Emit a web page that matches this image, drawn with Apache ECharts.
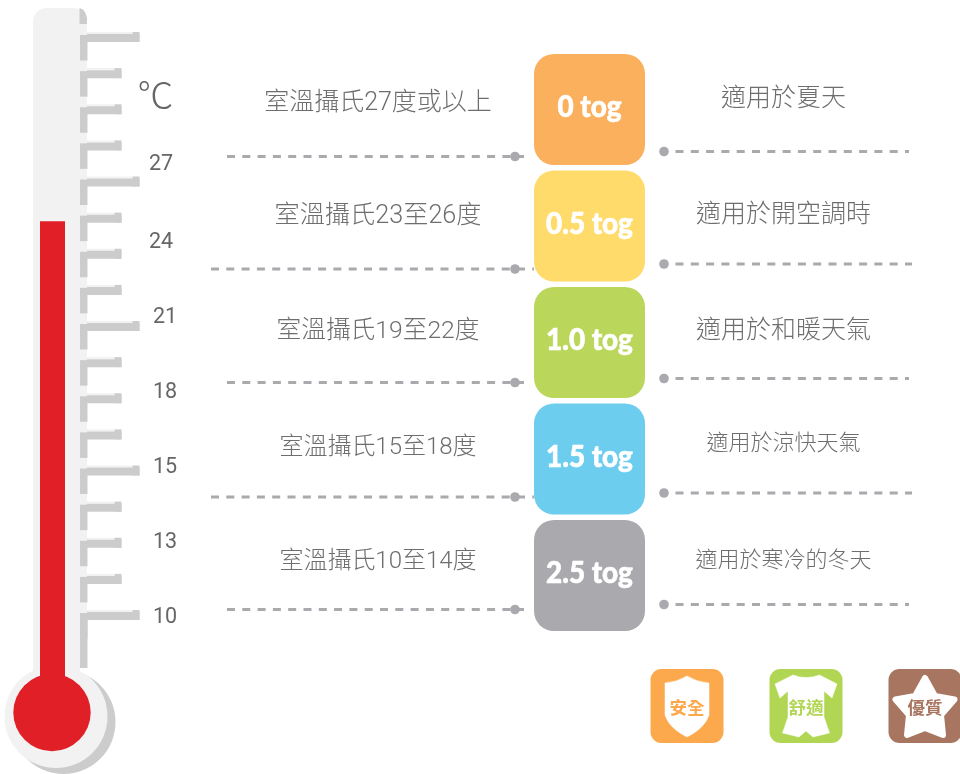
<!DOCTYPE html>
<html>
<head>
<meta charset="utf-8">
<style>html,body{margin:0;padding:0;background:#fff;overflow:hidden}#c{width:960px;height:774px}</style>
<script src="https://cdn.jsdelivr.net/npm/echarts@6/dist/echarts.min.js"></script>
</head>
<body>
<div id="c"></div>
<script>
// ---- content ----
const togLabels = ['0 tog', '0.5 tog', '1.0 tog', '1.5 tog', '2.5 tog'];
const roomLabels = ['室溫攝氏27度或以上', '室溫攝氏23至26度', '室溫攝氏19至22度', '室溫攝氏15至18度', '室溫攝氏10至14度'];
const useLabels = ['適用於夏天', '適用於開空調時', '適用於和暖天氣', '適用於涼快天氣', '適用於寒冷的冬天'];
const tempLabels = [10, 13, 15, 18, 21, 24, 27];
const mercuryTemp = 24.75;
const tickCount = 17;
const badgeLabels = ['安全', '舒適', '優質'];

// ---- styles / layout ----
const togColors = ['#FBB05E', '#FFDB6B', '#BAD75C', '#6DCDEE', '#A9A9AE'];
const badgeColors = ['#FBA94C', '#B1D654', '#A87561'];
const CJK = '"Roboto","Noto Sans CJK TC"';
const GREY = '#6e6e6e';
const DOT = '#A9A9AE';
const rowLayout = {
  leftY: [47, 43, 40, 38, 34],      // line offset from row centre
  rightY: [42, 38, 36, 34, 29],
  leftStart: [227, 211, 227, 211, 227],
  leftEnd: [524, 534, 524, 534, 524],
  rightEnd: [909, 912, 909, 912, 909],
  roomDy: [-6, -9, -11, -11, -14],
  roomSize: [25, 25.2, 24.7, 24, 24],
  useDy: [-10, -10, -11, -15, -14],
  useSize: [25, 25, 25, 22, 22]
};
const tempDx = [165, 165, 165, 165, 165, 161, 161];
const tempDy = [3, 3, 3, 3, 3, 3, 0];
const badgePaths = [
  'M0 -30 Q10 -24 22 -23 L22 9 Q18 22 0 31 Q-18 22 -22 9 L-22 -23 Q-10 -24 0 -30Z',
  'M-13 -31 Q0 -26 13.5 -31 L31 -22 L26 -8 L18 -15 L18 11 L23.5 27 L7 31 L0 25 L-7 31 L-23.5 27 L-18 11 L-18 -15 L-26 -8 L-31 -22Z',
  'M0 -28 L10 -10 L29.5 -6.5 L16 9 L18 29 L0 22 L-18 29 L-16 9 L-29.5 -6.5 L-10 -10Z'
];

function tempToStep(t) {
  for (let i = 0; i < tempLabels.length - 1; i++) {
    if (t <= tempLabels[i + 1]) return i + (t - tempLabels[i]) / (tempLabels[i + 1] - tempLabels[i]);
  }
  return tempLabels.length - 1;
}

const hiddenAxis = { show: false };
const chart = echarts.init(document.getElementById('c'), null, { renderer: 'canvas' });

chart.setOption({
  animation: false,
  backgroundColor: '#fff',
  grid: [
    { left: 0, right: 0, top: 51.25, height: 582.5 },     // rows
    { left: 0, right: 0, top: 165, height: 450 },          // temperature scale
    { left: 0, right: 0, top: 38, height: 578 },           // thermometer ticks
    { left: 687, width: 238, top: 669, height: 74 }        // badges
  ],
  xAxis: [
    { ...hiddenAxis, type: 'value', min: 0, max: 960, gridIndex: 0 },
    { ...hiddenAxis, type: 'value', min: 0, max: 960, gridIndex: 1 },
    { ...hiddenAxis, type: 'value', min: 0, max: 960, gridIndex: 2 },
    { ...hiddenAxis, type: 'value', min: 0, max: badgeLabels.length - 1, gridIndex: 3 }
  ],
  yAxis: [
    { ...hiddenAxis, type: 'category', data: togLabels, inverse: true, gridIndex: 0 },
    { ...hiddenAxis, type: 'value', min: 0, max: tempLabels.length - 1, gridIndex: 1 },
    { ...hiddenAxis, type: 'value', min: 0, max: tickCount - 1, gridIndex: 2 },
    { ...hiddenAxis, type: 'value', min: 0, max: 1, gridIndex: 3 }
  ],
  graphic: { elements: [
    { type: 'rect', z: 1, shape: { x: 33, y: 8, width: 54, height: 660, r: [14, 14, 0, 0] }, style: { fill: '#F2F2F2' } },
    { type: 'polygon', z: 2, shape: { points: [[79.5, 8], [83, 9.5], [85.5, 13], [87, 18], [87, 24], [79.5, 24]] }, style: { fill: '#CCCCCC' } },
    { type: 'rect', z: 2, shape: { x: 80, y: 613, width: 7.5, height: 55 }, style: { fill: '#CCCCCC' } },
    { type: 'circle', z: 2, shape: { cx: 63.5, cy: 722, r: 52 }, style: { fill: '#CCCCCC' } },
    { type: 'circle', z: 5, shape: { cx: 56, cy: 716.5, r: 51.5 }, style: { fill: '#F2F2F2' } },
    { type: 'rect', z: 5, shape: { x: 33, y: 640, width: 47, height: 60 }, style: { fill: '#F2F2F2' } },
    { type: 'text', z: 3, style: { text: '℃', x: 155.5, y: 100, fill: '#666666', font: '300 36px ' + CJK, textAlign: 'center', textVerticalAlign: 'middle' } }
  ] },
  series: [
    // thermometer ticks
    {
      type: 'custom', xAxisIndex: 2, yAxisIndex: 2, z: 2, silent: true, clip: false,
      data: Array.from({ length: tickCount }, (_, i) => [0, i]),
      renderItem(params, api) {
        const y = api.coord([0, api.value(1)])[1];
        const isLong = api.value(1) % 4 === 0;
        const end = isLong ? 139.5 : 121.5;
        return { type: 'group', children: [
          { type: 'rect', shape: { x: 80, y: y - 3, width: 7.5, height: 25.5 }, style: { fill: '#CCCCCC' } },
          { type: 'rect', shape: { x: 87, y: y - 6, width: end - 87 - 7, height: 2 }, style: { fill: '#F2F2F2' } },
          { type: 'rect', shape: { x: 87, y: y - 4, width: end - 87, height: 8 }, style: { fill: '#CCCCCC' } },
          { type: 'rect', shape: { x: end - 7, y: y - 6, width: 7, height: 10 }, style: { fill: '#CCCCCC' } }
        ] };
      }
    },
    // temperature labels
    {
      type: 'custom', xAxisIndex: 1, yAxisIndex: 1, z: 3, silent: true, clip: false,
      data: tempLabels.map((t, i) => [0, i]),
      renderItem(params, api) {
        const i = params.dataIndex;
        const y = api.coord([0, i])[1];
        return { type: 'text', style: { text: String(tempLabels[i]), x: tempDx[i], y: y + tempDy[i], fill: '#666666', font: '400 21.5px Roboto', textAlign: 'center', textVerticalAlign: 'middle' } };
      }
    },
    // mercury
    {
      type: 'custom', xAxisIndex: 1, yAxisIndex: 1, z: 6, silent: true, clip: false,
      data: [[0, tempToStep(mercuryTemp)]],
      renderItem(params, api) {
        const top = api.coord([0, api.value(1)])[1];
        return { type: 'group', children: [
          { type: 'rect', shape: { x: 40, y: top, width: 25, height: 700 - top }, style: { fill: '#E11F27' } },
          { type: 'circle', shape: { cx: 52, cy: 712.5, r: 38.7 }, style: { fill: '#E11F27' } }
        ] };
      }
    },
    // rows
    {
      type: 'custom', xAxisIndex: 0, yAxisIndex: 0, z: 3, silent: true, clip: false,
      data: togLabels.map((t, i) => [0, i]),
      renderItem(params, api) {
        const i = params.dataIndex;
        const cy = api.coord([0, i])[1];
        const ly = cy + rowLayout.leftY[i];
        const ry = cy + rowLayout.rightY[i];
        const dash = { stroke: DOT, lineWidth: 2.8, lineDash: [8, 7.3] };
        return { type: 'group', children: [
          { type: 'line', shape: { x1: rowLayout.leftStart[i], y1: ly, x2: rowLayout.leftEnd[i], y2: ly }, style: dash },
          { type: 'circle', shape: { cx: 515, cy: ly, r: 4.8 }, style: { fill: DOT } },
          { type: 'line', shape: { x1: 675.5, y1: ry, x2: rowLayout.rightEnd[i], y2: ry }, style: dash },
          { type: 'circle', shape: { cx: 664, cy: ry, r: 4.8 }, style: { fill: DOT } },
          { type: 'rect', shape: { x: 534, y: cy - 55.5, width: 111, height: 111, r: 20 }, style: { fill: togColors[i] } },
          { type: 'text', x: 589.5, y: cy - 2.5, scaleX: 0.9, style: { text: togLabels[i], x: 0, y: 0, fill: '#fff', stroke: '#fff', lineWidth: 0.6, font: '900 31px Lato', textAlign: 'center', textVerticalAlign: 'middle' } },
          { type: 'text', style: { text: roomLabels[i], x: 378, y: cy + rowLayout.roomDy[i], fill: GREY, font: '300 ' + rowLayout.roomSize[i] + 'px ' + CJK, textAlign: 'center', textVerticalAlign: 'middle' } },
          { type: 'text', style: { text: useLabels[i], x: 783.5, y: cy + rowLayout.useDy[i], fill: GREY, font: '300 ' + rowLayout.useSize[i] + 'px ' + CJK, textAlign: 'center', textVerticalAlign: 'middle' } }
        ] };
      }
    },
    // badges
    {
      type: 'custom', xAxisIndex: 3, yAxisIndex: 3, z: 3, silent: true, clip: false,
      data: badgeLabels.map((b, i) => [i, 0.5]),
      renderItem(params, api) {
        const i = params.dataIndex;
        const p = api.coord([i, 0.5]);
        return { type: 'group', x: p[0], y: p[1], children: [
          { type: 'rect', shape: { x: -36.5, y: -37, width: 73, height: 74, r: 11 }, style: { fill: badgeColors[i] } },
          { type: 'path', shape: { pathData: badgePaths[i] }, style: { fill: '#fff', stroke: '#fff', lineWidth: i === 2 ? 6 : 0.5, lineJoin: 'round' } },
          { type: 'text', style: { text: badgeLabels[i], x: 0, y: 1, fill: badgeColors[i], font: '700 17.5px "Noto Sans CJK TC"', textAlign: 'center', textVerticalAlign: 'middle' } }
        ] };
      }
    }
  ]
});
</script>
</body>
</html>
